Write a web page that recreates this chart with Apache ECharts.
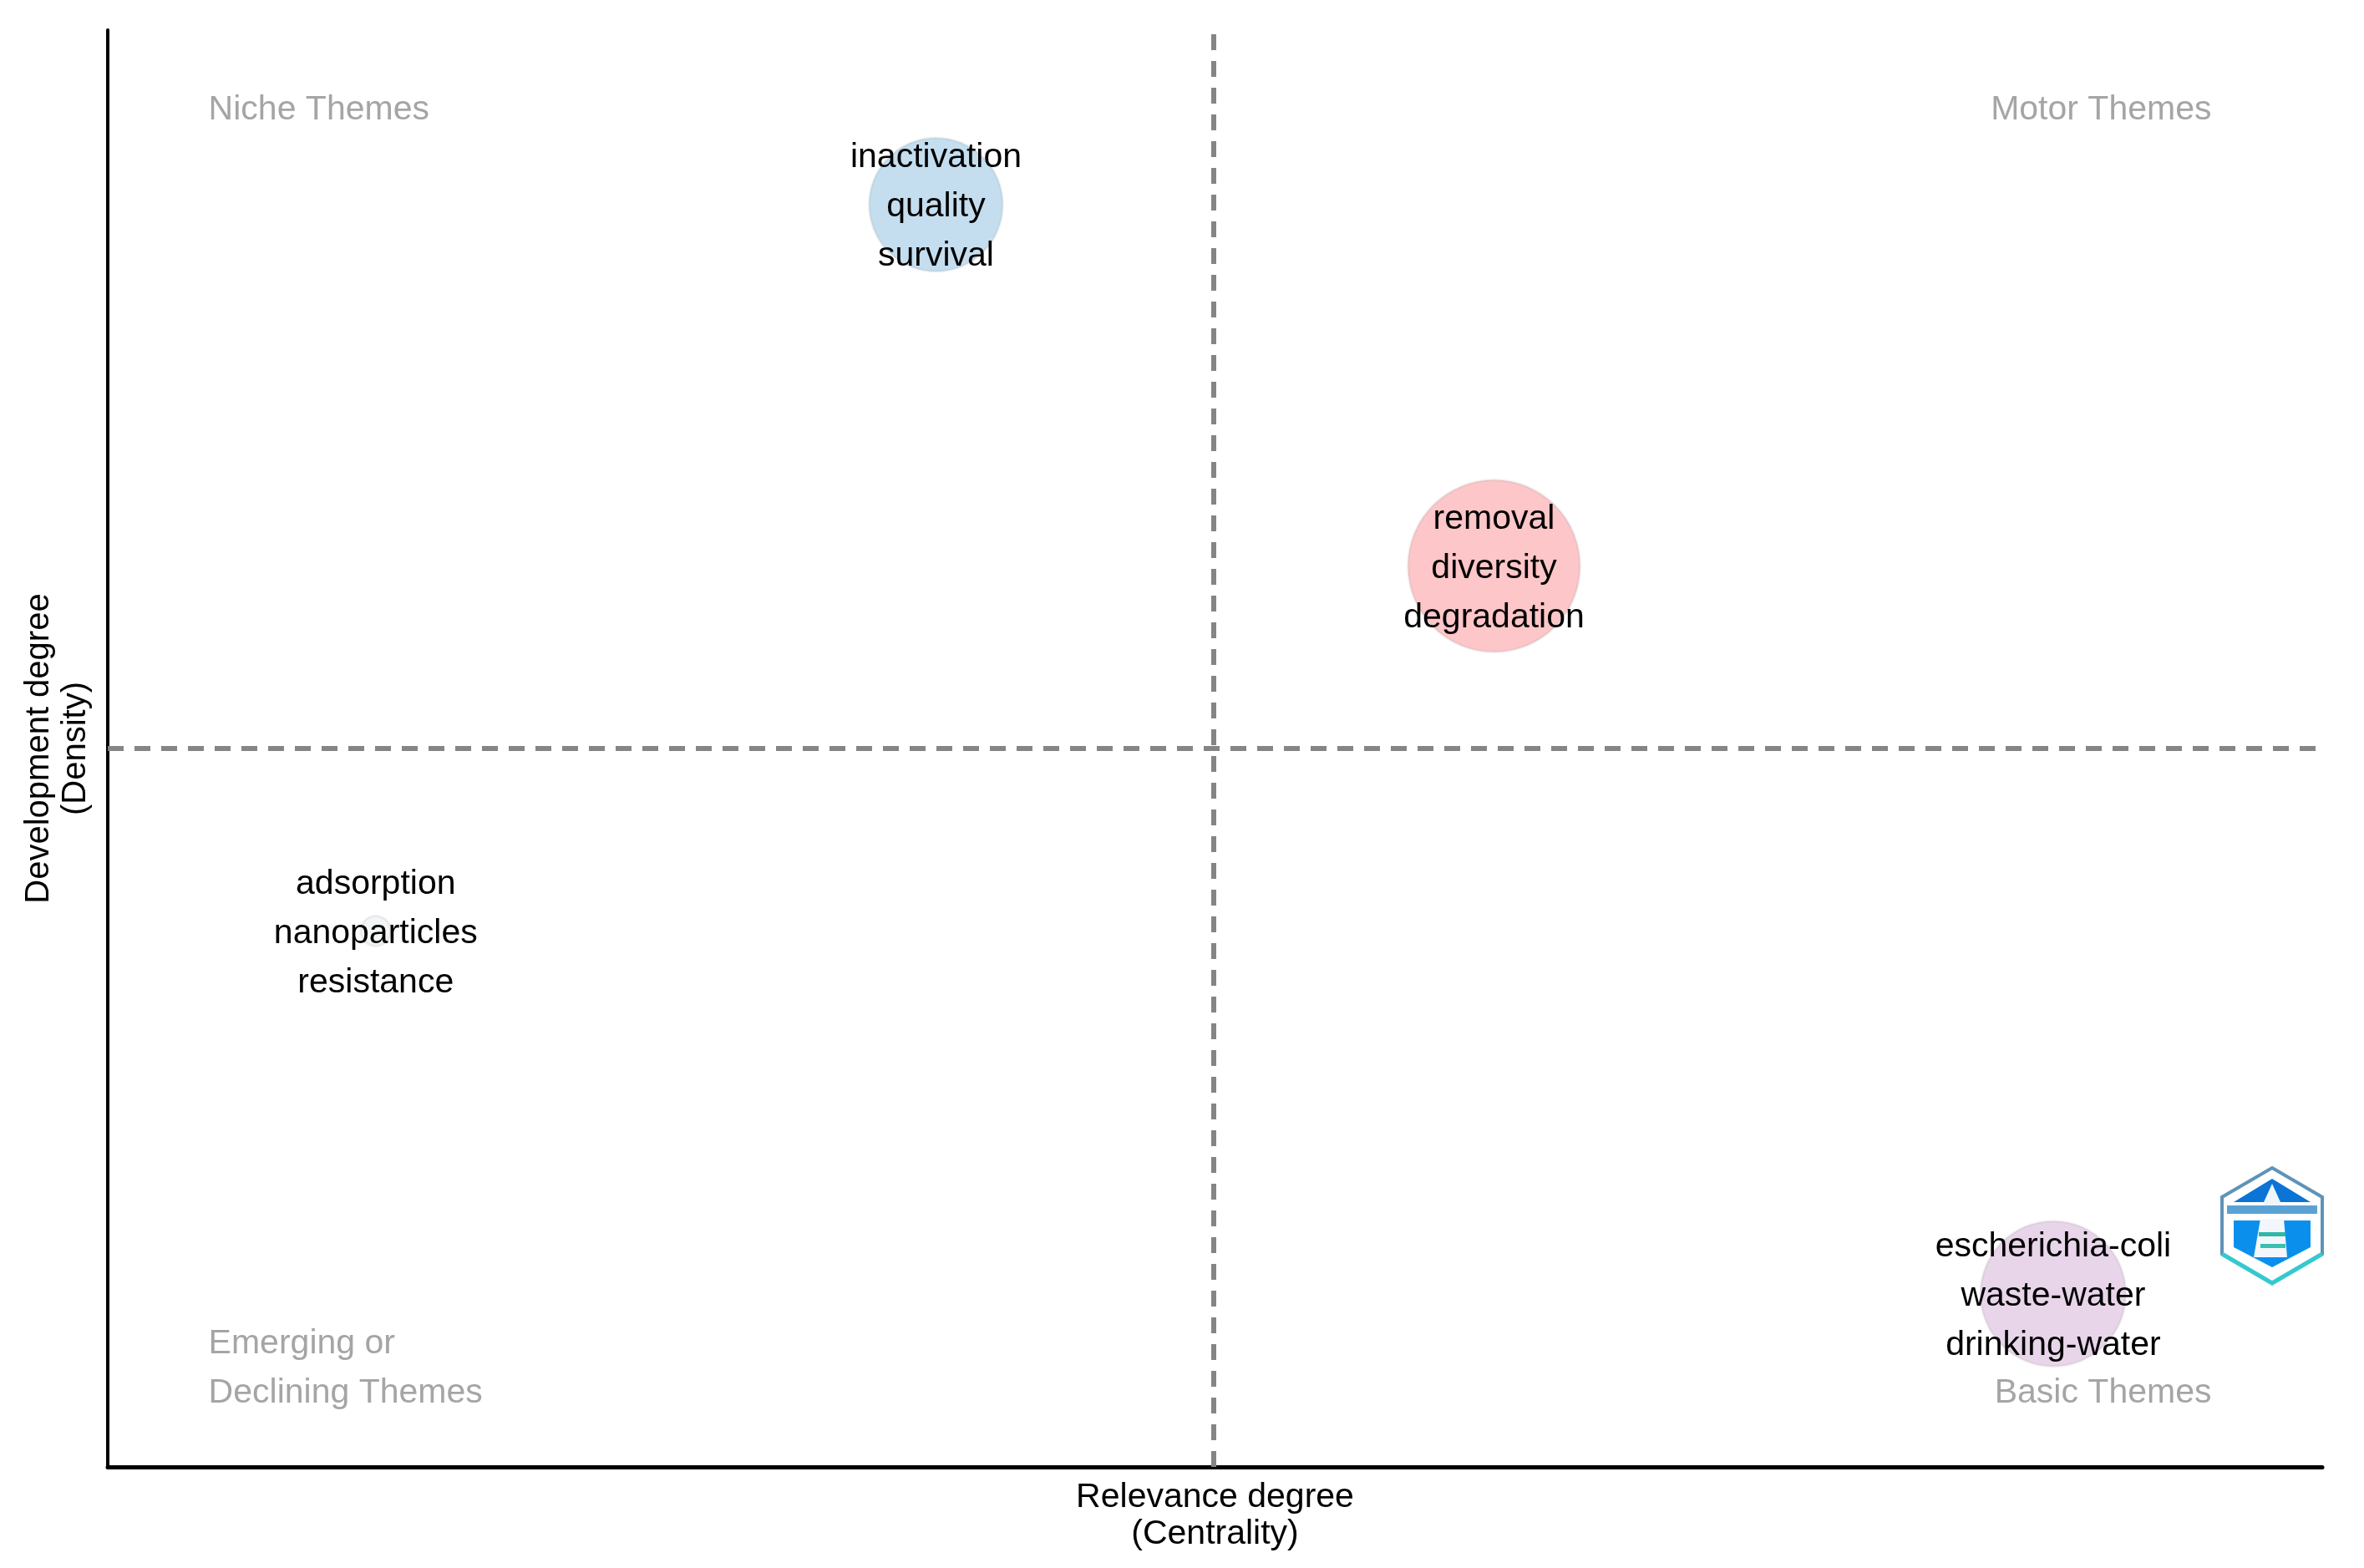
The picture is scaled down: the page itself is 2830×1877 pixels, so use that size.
<!DOCTYPE html>
<html>
<head>
<meta charset="utf-8">
<style>html,body{margin:0;padding:0;background:#fff}#c{width:2830px;height:1877px}</style>
<script src="https://cdn.jsdelivr.net/npm/echarts@6/dist/echarts.min.js"></script>
</head>
<body>
<div id="c"></div>
<script>
const themeKeywords = [
  ['inactivation', 'quality', 'survival'],
  ['removal', 'diversity', 'degradation'],
  ['adsorption', 'nanoparticles', 'resistance'],
  ['escherichia-coli', 'waste-water', 'drinking-water']
];
const centrality = [37.4, 62.6, 12.1, 87.85];
const density = [87.85, 62.7, 37.3, 12.05];
const clusterSize = [160, 206, 36, 174];
const themeColors = ['#c4deef', '#fdc6c8', '#f3f6f6', '#e8d5e9'];
const medianCentrality = 49.94;
const medianDensity = 50;
const quadrantNames = ['Niche Themes', 'Motor Themes', 'Emerging or\nDeclining Themes', 'Basic Themes'];
const quadrantX = [4.55, 95.0, 4.55, 95.0];
const quadrantY = [94.45, 94.45, 6.85, 5.15];
const quadrantAlign = ['left', 'right', 'left', 'right'];

const chart = echarts.init(document.getElementById('c'), null, {renderer: 'canvas'});
const FONT = '"Liberation Sans", Arial, sans-serif';

function hex(cx, cy, rx, top, side) {
  return [[cx, cy - top], [cx + rx, cy - side], [cx + rx, cy + side], [cx, cy + top], [cx - rx, cy + side], [cx - rx, cy - side]];
}
const lx = 2720, ly = 1467;
const logo = {
  type: 'group', silent: true, children: [
    {type: 'polygon', shape: {points: hex(lx, ly, 60, 69, 34)}, style: {fill: '#ffffff', stroke: '#5f93b8', lineWidth: 4}},
    {type: 'polyline', shape: {points: [[lx - 60, ly + 34], [lx, ly + 69], [lx + 60, ly + 34]]}, style: {fill: 'none', stroke: '#35c9cf', lineWidth: 5}},
    {type: 'polygon', shape: {points: [[lx, ly - 56], [lx + 46, ly - 28], [lx - 46, ly - 28]]}, style: {fill: '#0b74d6'}},
    {type: 'polygon', shape: {points: [[lx, ly - 50], [lx + 10, ly - 28], [lx + 10, ly - 14], [lx - 10, ly - 14], [lx - 10, ly - 28]]}, style: {fill: '#eef5fb'}},
    {type: 'rect', shape: {x: lx - 54, y: ly - 24, width: 108, height: 10}, style: {fill: '#5aa2d4'}},
    {type: 'polygon', shape: {points: [[lx - 46, ly - 6], [lx + 46, ly - 6], [lx + 46, ly + 26], [lx, ly + 50], [lx - 46, ly + 26]]}, style: {fill: '#0a90ec'}},
    {type: 'polygon', shape: {points: [[lx - 14, ly - 8], [lx + 14, ly - 8], [lx + 18, ly + 38], [lx - 22, ly + 38]]}, style: {fill: '#f3f7fb'}},
    {type: 'rect', shape: {x: lx - 16, y: ly + 8, width: 32, height: 5}, style: {fill: '#2fb7a8'}},
    {type: 'rect', shape: {x: lx - 14, y: ly + 22, width: 30, height: 5}, style: {fill: '#3bbfb2'}},
    {type: 'polygon', shape: {points: [[lx - 34, ly + 38], [lx, ly + 56], [lx + 34, ly + 38], [lx, ly + 62]]}, style: {fill: '#ffffff'}}
  ]
};

chart.setOption({
  backgroundColor: '#ffffff',
  animation: false,
  textStyle: {fontFamily: FONT},
  grid: {left: 129, right: 50, top: 36, bottom: 121, outerBoundsMode: 'none'},
  xAxis: {
    type: 'value', min: 0, max: 100,
    name: 'Relevance degree\n(Centrality)', nameLocation: 'middle', nameGap: 15,
    nameTextStyle: {fontFamily: FONT, fontSize: 41, lineHeight: 44, color: '#000'},
    axisLine: {show: true, onZero: false, lineStyle: {color: '#000', width: 5}},
    axisTick: {show: false}, axisLabel: {show: false}, splitLine: {show: false}
  },
  yAxis: {
    type: 'value', min: 0, max: 100,
    name: 'Development degree\n(Density)', nameLocation: 'middle', nameGap: 16,
    nameTextStyle: {fontFamily: FONT, fontSize: 40, lineHeight: 44, color: '#000'},
    axisLine: {show: true, onZero: false, lineStyle: {color: '#000', width: 4}},
    axisTick: {show: false}, axisLabel: {show: false}, splitLine: {show: false}
  },
  graphic: [logo],
  series: [
    {
      type: 'scatter',
      z: 3,
      data: centrality.map((x, i) => ({
        value: [x, density[i]],
        symbolSize: clusterSize[i],
        itemStyle: {color: themeColors[i], borderColor: 'rgba(130,130,130,0.12)', borderWidth: 3, opacity: 1},
        label: {formatter: themeKeywords[i].join('\n')}
      })),
      label: {
        show: true, position: 'inside', color: '#000', fontFamily: FONT, fontSize: 41, lineHeight: 59,
        align: 'center', verticalAlign: 'middle'
      },
      labelLayout: {hideOverlap: false, dy: 3},
      emphasis: {disabled: true},
      markLine: {
        silent: true, symbol: 'none', z: 2, animation: false,
        label: {show: false},
        lineStyle: {color: '#858585', width: 6, type: [19, 13], opacity: 1},
        data: [{xAxis: medianCentrality}, {yAxis: medianDensity}]
      }
    },
    {
      type: 'scatter',
      z: 4,
      symbolSize: 1,
      itemStyle: {color: 'rgba(0,0,0,0)'},
      data: quadrantNames.map((n, i) => ({
        value: [quadrantX[i], quadrantY[i]],
        label: {formatter: n, align: quadrantAlign[i]}
      })),
      label: {
        show: true, position: 'inside', color: '#8e8e8e', fontFamily: FONT, fontSize: 41, lineHeight: 59,
        verticalAlign: 'middle'
      },
      labelLayout: {hideOverlap: false},
      emphasis: {disabled: true}
    }
  ]
});
</script>
</body>
</html>
